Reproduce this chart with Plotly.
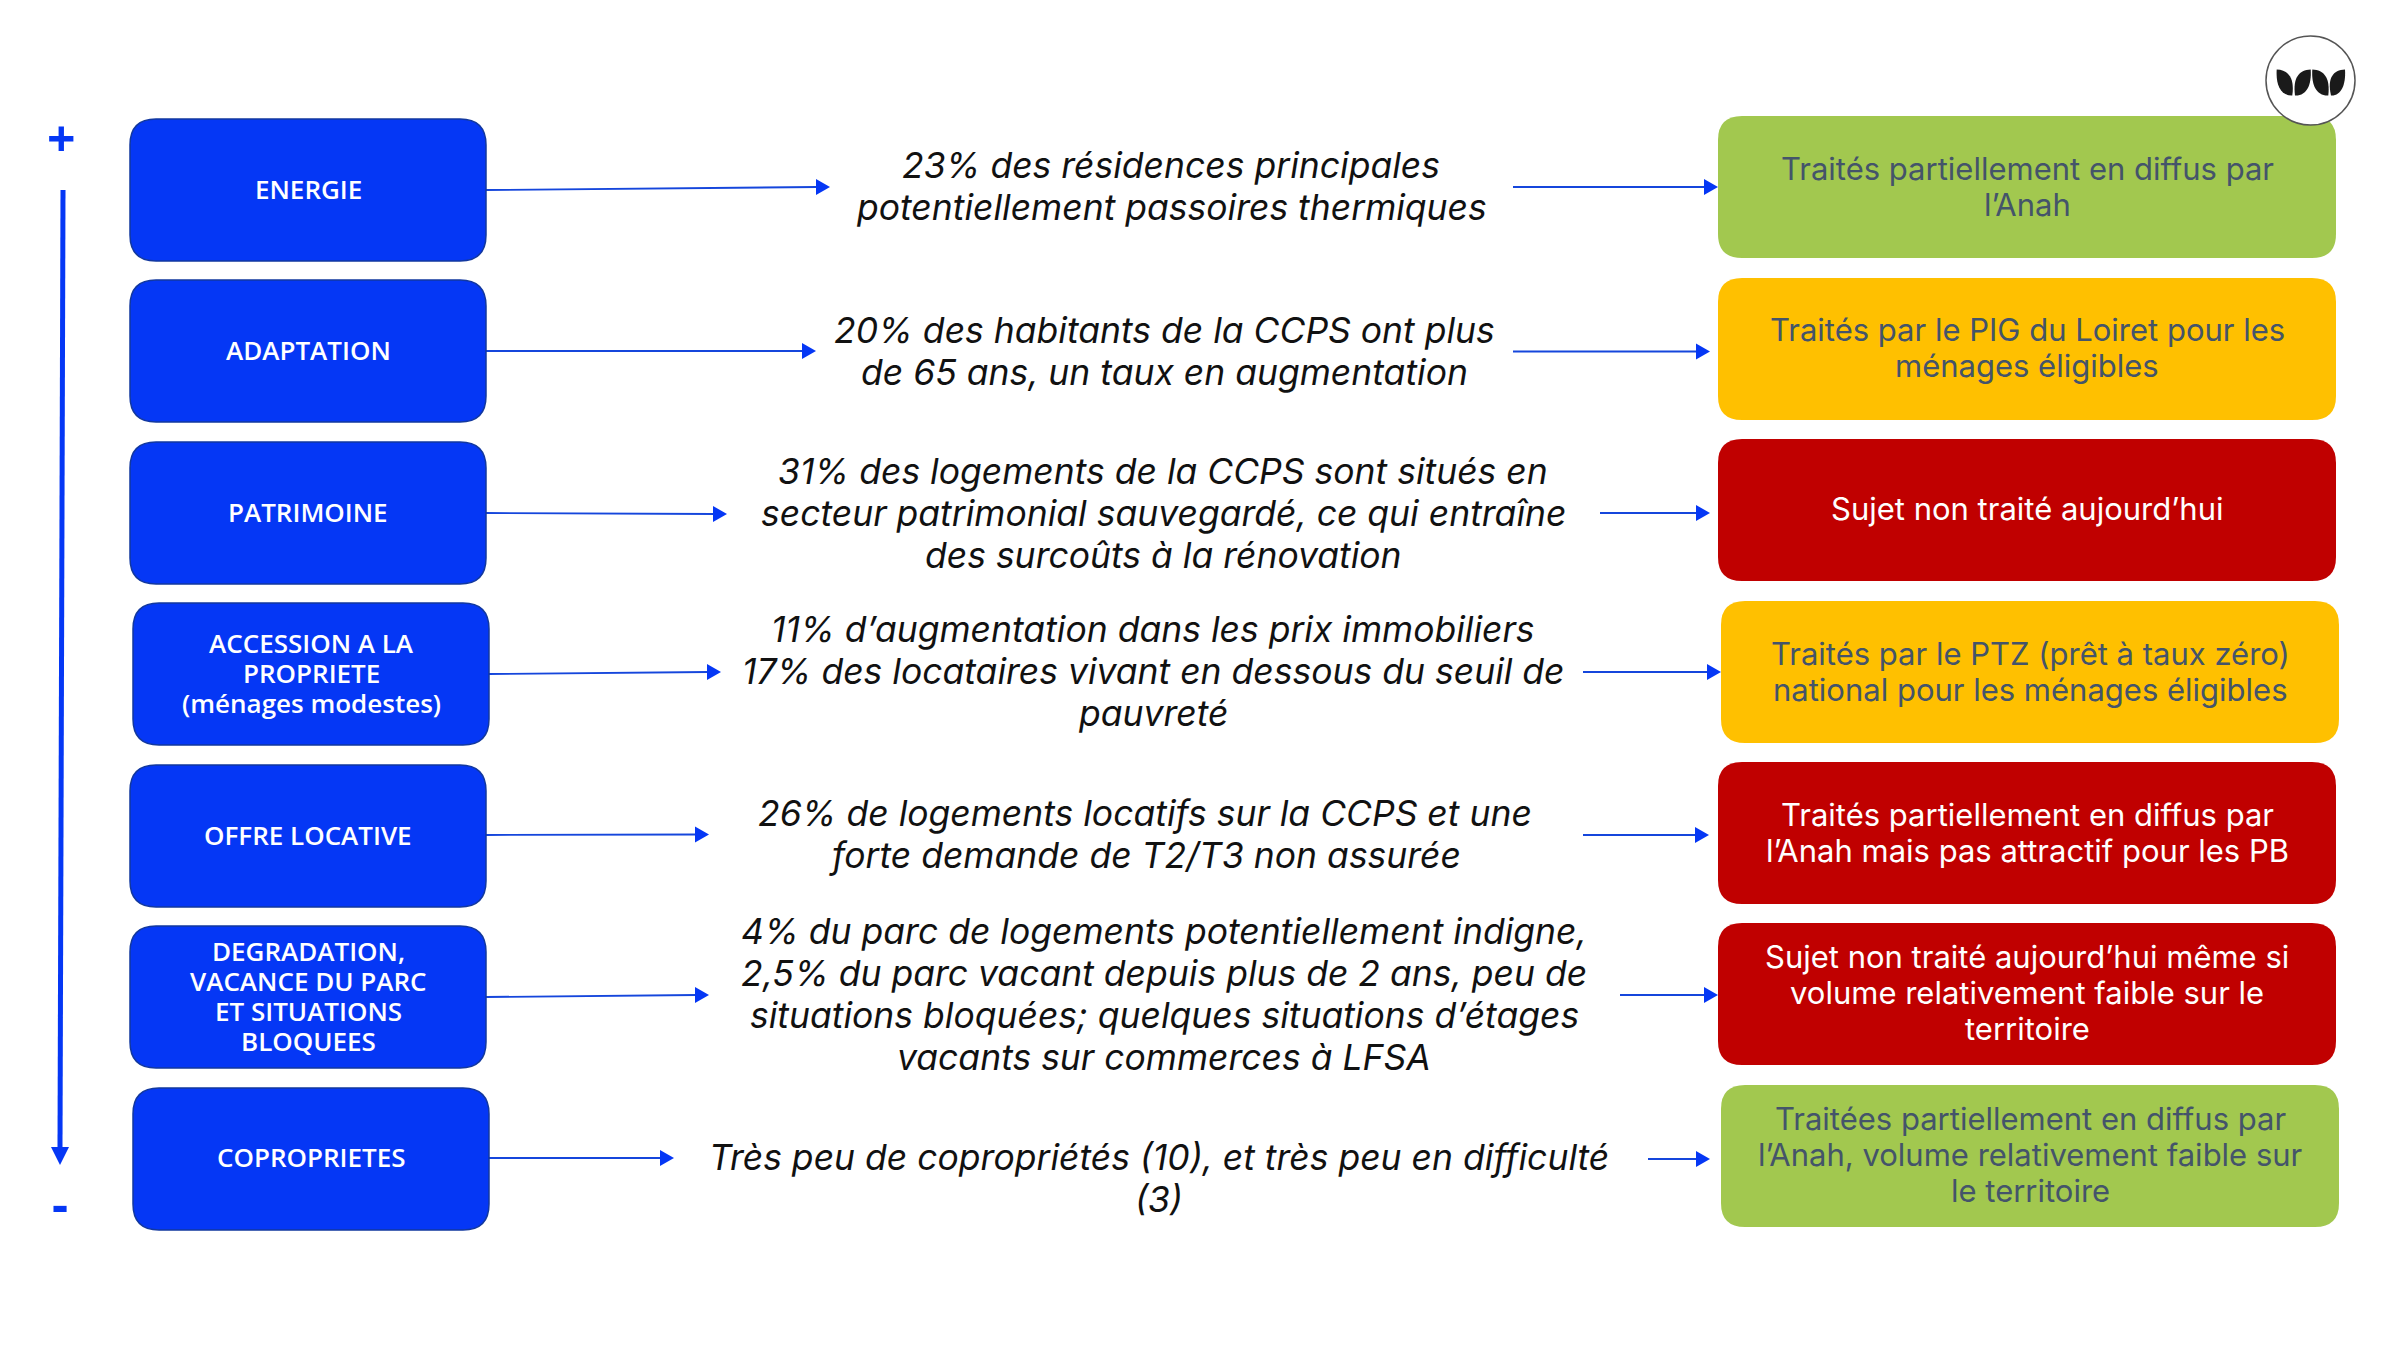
import plotly.graph_objects as go

# Themes, most to least urgent
categories = [
    "ENERGIE",
    "ADAPTATION",
    "PATRIMOINE",
    "ACCESSION A LA\nPROPRIETE\n(ménages modestes)",
    "OFFRE LOCATIVE",
    "DEGRADATION,\nVACANCE DU PARC\nET SITUATIONS\nBLOQUEES",
    "COPROPRIETES",
]
findings = [
    "23% des résidences principales\npotentiellement passoires thermiques",
    "20% des habitants de la CCPS ont plus\nde 65 ans, un taux en augmentation",
    "31% des logements de la CCPS sont situés en\nsecteur patrimonial sauvegardé, ce qui entraîne\ndes surcoûts à la rénovation",
    "11% d’augmentation dans les prix immobiliers\n17% des locataires vivant en dessous du seuil de\npauvreté",
    "26% de logements locatifs sur la CCPS et une\nforte demande de T2/T3 non assurée",
    "4% du parc de logements potentiellement indigne,\n2,5% du parc vacant depuis plus de 2 ans, peu de\nsituations bloquées; quelques situations d’étages\nvacants sur commerces à LFSA",
    "Très peu de copropriétés (10), et très peu en difficulté\n(3)",
]
treatments = [
    "Traités partiellement en diffus par\nl’Anah",
    "Traités par le PIG du Loiret pour les\nménages éligibles",
    "Sujet non traité aujourd’hui",
    "Traités par le PTZ (prêt à taux zéro)\nnational pour les ménages éligibles",
    "Traités partiellement en diffus par\nl’Anah mais pas attractif pour les PB",
    "Sujet non traité aujourd’hui même si\nvolume relativement faible sur le\nterritoire",
    "Traitées partiellement en diffus par\nl’Anah, volume relativement faible sur\nle territoire",
]
status = ["partial", "eligible", "none", "eligible", "none", "none", "partial"]

STATUS_COLORS = {"partial": "#A2C84F", "eligible": "#FFC000", "none": "#C00000"}
STATUS_TEXT = {"partial": "#44546A", "eligible": "#44546A", "none": "#FFFFFF"}
BLUE = "#0537F5"
ARROW = "#1546DC"

# Layout, in page pixels
left_x0 = [130, 130, 130, 133, 130, 130, 133]
left_top = [119, 280, 442, 603, 765, 926, 1088]
right_x0 = [1718, 1718, 1718, 1721, 1718, 1718, 1721]
right_top = [116, 278, 439, 601, 762, 923, 1085]
left_cy = [189, 350, 512, 673, 835, 996, 1157]
mid_cx = [1171, 1164, 1163, 1153, 1145, 1164, 1159]
mid_cy = [186.5, 351, 513, 671, 834, 994, 1178]
right_cy = [186.5, 347.5, 508.5, 671, 832.5, 992.5, 1154.5]
arrow1_y0 = [190, 351, 513, 674, 835, 997, 1158]
arrow1_y1 = [187, 351, 514, 672, 834.5, 995, 1158]
arrow1_end = [830, 816, 727, 721, 709, 709, 674]
arrow2_start = [1513, 1513, 1600, 1583, 1583, 1620, 1648]
arrow2_end = [1718, 1710, 1710, 1721, 1709, 1718, 1710]
arrow2_y = [187, 351.5, 513, 672, 835, 995, 1159]


def rounded(x0, y0, x1, y1, r):
    return (
        f"M {x0 + r} {y0} L {x1 - r} {y0} Q {x1} {y0} {x1} {y0 + r} "
        f"L {x1} {y1 - r} Q {x1} {y1} {x1 - r} {y1} "
        f"L {x0 + r} {y1} Q {x0} {y1} {x0} {y1 - r} "
        f"L {x0} {y0 + r} Q {x0} {y0} {x0 + r} {y0} Z"
    )


def add_lines(fig, text, cx, cy, spacing, size, color, family, italic=False, weight=None):
    lines = text.split("\n")
    for k, line in enumerate(lines):
        fig.add_annotation(
            x=cx,
            y=cy + (k - (len(lines) - 1) / 2) * spacing,
            text=f"<i>{line}</i>" if italic else line,
            showarrow=False,
            font=dict(size=size, color=color, family=family, weight=weight),
        )


fig = go.Figure()
shapes = []


def add_arrow(x0, y0, x1, y1):
    fig.add_trace(go.Scatter(
        x=[x0, x1 - 13],
        y=[y0, y1],
        mode="lines",
        line=dict(color=ARROW, width=1.8),
        hoverinfo="skip",
        showlegend=False,
    ))
    shapes.append(dict(
        type="path",
        path=f"M {x1} {y1} L {x1 - 14} {y1 - 8} L {x1 - 14} {y1 + 8} Z",
        fillcolor=BLUE,
        line=dict(width=0),
    ))


for i in range(len(categories)):
    shapes.append(dict(
        type="path",
        path=rounded(left_x0[i], left_top[i], left_x0[i] + 356, left_top[i] + 142, 26),
        fillcolor=BLUE,
        line=dict(color="#12389F", width=1.5),
    ))
    shapes.append(dict(
        type="path",
        path=rounded(right_x0[i], right_top[i], right_x0[i] + 618, right_top[i] + 142, 24),
        fillcolor=STATUS_COLORS[status[i]],
        line=dict(width=0),
    ))

    add_lines(fig, categories[i], left_x0[i] + 178, left_cy[i], 30, 26, "white", "Open Sans", weight=600)
    add_lines(fig, findings[i], mid_cx[i], mid_cy[i], 42, 35.5, "#111111", "Inter", italic=True)
    add_lines(fig, treatments[i], right_x0[i] + 309, right_cy[i], 36, 31,
              STATUS_TEXT[status[i]], "Inter")

    # two arrows per row: theme -> finding -> treatment
    add_arrow(left_x0[i] + 356, arrow1_y0[i], arrow1_end[i], arrow1_y1[i])
    add_arrow(arrow2_start[i], arrow2_y[i], arrow2_end[i], arrow2_y[i])

# Priority axis on the left
fig.add_trace(go.Scatter(
    x=[63, 60],
    y=[190, 1148],
    mode="lines",
    line=dict(color=BLUE, width=5),
    hoverinfo="skip",
    showlegend=False,
))
shapes.append(dict(
    type="path",
    path="M 51 1147 L 69 1147 L 60 1165 Z",
    fillcolor=BLUE,
    line=dict(width=0),
))
fig.add_annotation(x=61, y=138, text="<b>+</b>", showarrow=False,
                   font=dict(size=50, color=BLUE, family="Open Sans"))
fig.add_annotation(x=60, y=1203, text="<b>-</b>", showarrow=False,
                   font=dict(size=50, color=BLUE, family="Open Sans"))

# Logo badge, top right
shapes.append(dict(
    type="circle", x0=2266, x1=2355, y0=36, y1=125,
    fillcolor="white", line=dict(color="#555555", width=1.5),
))
# (tip x, base x, side the leaf opens to)
leaves = [(2276.7, 2292.3, 1), (2310.7, 2295, -1), (2312.3, 2328.3, 1), (2345, 2331, -1)]
for tip, base, d in leaves:
    shapes.append(dict(
        type="path",
        path=(
            f"M {tip} 69.5 C {tip + d * 12} 70 {tip + d * 18} 78 {base} 95.5 "
            f"C {tip + d * 4} 96 {tip - d} 85 {tip} 69.5 Z"
        ),
        fillcolor="#1A1A1A",
        line=dict(width=0),
    ))

fig.update_layout(
    width=2400,
    height=1350,
    margin=dict(l=0, r=0, t=0, b=0),
    paper_bgcolor="white",
    plot_bgcolor="white",
    shapes=shapes,
    showlegend=False,
)
fig.update_xaxes(range=[0, 2400], visible=False)
fig.update_yaxes(range=[1350, 0], visible=False)

fig.write_html(
    "out.html",
    config={"displayModeBar": False},
    post_script="document.body.style.margin = '0';",
)
